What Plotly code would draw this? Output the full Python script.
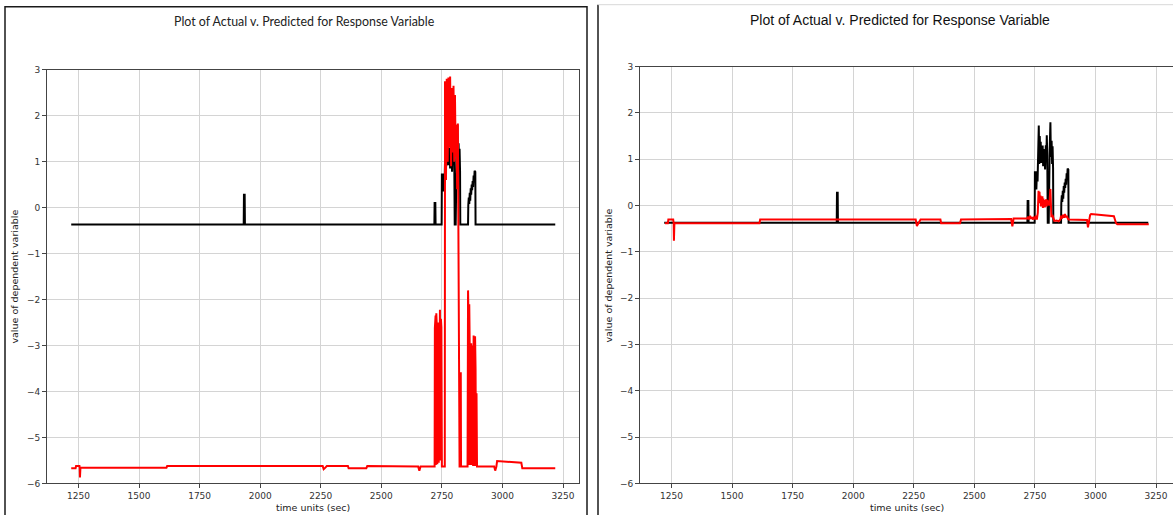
import plotly.graph_objects as go

# ---- data -------------------------------------------------------------
# Actual response (shared by both panels)
t_actual = [1220, 1932, 1933, 1936, 1937, 2719, 2720, 2723, 2724, 2749, 2750, 2755,
            2756, 2758, 2761, 2763, 2766, 2768, 2770, 2772, 2774, 2776, 2778, 2780,
            2782, 2784, 2786, 2788, 2790, 2792, 2795, 2797, 2799, 2801, 2803, 2807,
            2808, 2811, 2814, 2816, 2819, 2821, 2823, 2825, 2826, 2858, 2859, 2861,
            2863, 2865, 2867, 2869, 2871, 2873, 2875, 2877, 2879, 2881, 2883, 2885,
            2888, 2889, 3218]
v_actual = [-0.37, -0.37, 0.28, 0.28, -0.37, -0.37, 0.10, 0.10, -0.37, -0.37, 0.72, 0.72,
            0.35, 0.68, 0.52, 1.05, 1.73, 0.90, 1.50, 1.05, 1.38, 0.92, 1.28, 1.02,
            1.30, 0.85, 1.22, 0.98, 1.15, 0.78, 1.30, 0.95, 1.52, 1.10, -0.37, -0.37,
            0.60, 1.20, 1.80, 1.05, 1.40, 0.90, 1.28, 0.80, -0.37, -0.37, 0.05, 0.22,
            0.08, 0.32, 0.15, 0.42, 0.28, 0.50, 0.38, 0.58, 0.45, 0.70, 0.55, 0.80,
            0.78, -0.37, -0.37]

# Predicted response, first model
t_pred_a = [1220, 1238, 1240, 1254, 1255, 1256, 1258, 1613, 1616, 2258, 2262, 2266,
            2275, 2362, 2365, 2438, 2442, 2652, 2657, 2662, 2720, 2721, 2724, 2725,
            2727, 2729, 2731, 2733, 2735, 2737, 2739, 2742, 2744, 2746, 2748, 2750,
            2762, 2763, 2767, 2770, 2774, 2777, 2781, 2784, 2788, 2791, 2795, 2798,
            2801, 2804, 2807, 2810, 2813, 2816, 2819, 2823, 2827, 2828, 2829, 2856,
            2858, 2860, 2861, 2863, 2865, 2867, 2869, 2871, 2873, 2875, 2877, 2879,
            2881, 2883, 2885, 2887, 2889, 2891, 2893, 2895, 2966, 2970, 2975, 2978,
            3040, 3078, 3082, 3218]
v_pred_a = [-5.67, -5.67, -5.62, -5.62, -5.66, -5.87, -5.66, -5.66, -5.62, -5.62, -5.69, -5.67,
            -5.62, -5.62, -5.67, -5.67, -5.62, -5.63, -5.72, -5.63, -5.63, -2.62, -2.35, -5.60,
            -2.30, -2.55, -5.58, -2.72, -2.50, -5.55, -2.30, -2.22, -5.50, -2.42, -2.60, -5.63,
            -5.63, 2.75, 0.60, 2.80, 1.00, 2.83, 1.30, 2.85, 0.90, 2.60, 1.20, 2.65,
            1.00, 2.45, 1.10, 1.80, 0.40, 1.83, -1.05, -5.63, -5.63, -3.58, -5.63, -5.63,
            -1.80, -2.40, -5.60, -2.10, -3.05, -5.60, -3.10, -2.95, -5.60, -3.30, -3.00, -5.62,
            -2.78, -3.20, -5.62, -2.80, -3.50, -5.62, -4.04, -5.63, -5.63, -5.72, -5.63, -5.51,
            -5.53, -5.55, -5.67, -5.67]

# Predicted response, second model
t_pred_b = [1223, 1235, 1237, 1257, 1259, 1260, 1262, 1613, 1616, 2258, 2263, 2267,
            2278, 2360, 2363, 2441, 2445, 2652, 2657, 2662, 2719, 2722, 2726, 2730,
            2734, 2738, 2742, 2746, 2750, 2754, 2758, 2762, 2765, 2767, 2769, 2771,
            2773, 2775, 2777, 2779, 2781, 2783, 2785, 2787, 2789, 2791, 2793, 2795,
            2797, 2799, 2801, 2803, 2806, 2809, 2812, 2814, 2816, 2818, 2822, 2826,
            2830, 2840, 2848, 2855, 2858, 2862, 2866, 2870, 2874, 2878, 2882, 2886,
            2890, 2965, 2969, 2973, 2978, 2982, 3030, 3076, 3085, 3090, 3220]
v_pred_b = [-0.38, -0.38, -0.30, -0.30, -0.38, -0.76, -0.38, -0.38, -0.30, -0.30, -0.44, -0.40,
            -0.30, -0.30, -0.38, -0.38, -0.30, -0.29, -0.45, -0.28, -0.28, -0.24, -0.30, -0.22,
            -0.28, -0.25, -0.30, -0.24, -0.30, -0.22, -0.30, -0.15, 0.32, 0.05, 0.30, 0.08,
            0.22, -0.02, 0.18, 0.05, 0.20, -0.05, 0.15, 0.02, 0.12, -0.04, 0.10, 0.00,
            0.14, -0.02, 0.12, 0.04, 0.10, 0.00, 0.22, 0.36, 0.05, -0.25, -0.20, -0.30,
            -0.33, -0.32, -0.34, -0.30, -0.22, -0.28, -0.20, -0.26, -0.18, -0.25, -0.22, -0.28,
            -0.30, -0.31, -0.47, -0.35, -0.20, -0.18, -0.20, -0.23, -0.38, -0.40, -0.40]

x_ticks = [1250, 1500, 1750, 2000, 2250, 2500, 2750, 3000, 3250]
y_ticks = [-6, -5, -4, -3, -2, -1, 0, 1, 2, 3]

title_text = "Plot of Actual v. Predicted for Response Variable"
x_label = "time units (sec)"
y_label = "value of dependent variable"

# ---- layout helpers ---------------------------------------------------
W, H = 1173, 515


def fx(p):
    return p / W


def fy(p):
    # vertical pixel offset (from the top) -> paper fraction
    q = (p - 4.3) / 0.981
    return 1 - q / H


tick_font = dict(family="DejaVu Sans", size=9, color="#333333")
spine = "#444444"
grid = "#d4d4d4"


def x_axis(domain, rng, anchor):
    return dict(domain=domain, range=rng, anchor=anchor, tickvals=x_ticks,
                showgrid=True, gridcolor=grid, gridwidth=1, zeroline=False,
                showline=True, linecolor=spine, linewidth=1, mirror=True,
                ticks="outside", ticklen=4, tickcolor=spine, tickfont=tick_font,
                fixedrange=True)


def y_axis(domain, anchor, mirror):
    return dict(domain=domain, range=[-6, 3], anchor=anchor, tickvals=y_ticks,
                showgrid=True, gridcolor=grid, gridwidth=1, zeroline=False,
                showline=True, linecolor=spine, linewidth=1, mirror=mirror,
                ticks="outside", ticklen=4, tickcolor=spine, tickfont=tick_font,
                fixedrange=True)


fig = go.Figure()

# left panel
fig.add_trace(go.Scatter(x=t_actual, y=v_actual, mode="lines", xaxis="x", yaxis="y",
                         line=dict(color="#000000", width=2), showlegend=False,
                         hoverinfo="skip"))
fig.add_trace(go.Scatter(x=t_pred_a, y=v_pred_a, mode="lines", xaxis="x", yaxis="y",
                         line=dict(color="#ff0000", width=2), showlegend=False,
                         hoverinfo="skip"))
# right panel
fig.add_trace(go.Scatter(x=t_actual, y=v_actual, mode="lines", xaxis="x2", yaxis="y2",
                         line=dict(color="#000000", width=2), showlegend=False,
                         hoverinfo="skip"))
fig.add_trace(go.Scatter(x=t_pred_b, y=v_pred_b, mode="lines", xaxis="x2", yaxis="y2",
                         line=dict(color="#ff0000", width=2), showlegend=False,
                         hoverinfo="skip"))

left_x = [fx(47), fx(579)]
right_x = [fx(640), 1.0]
left_y = [fy(483), fy(69)]
right_y = [fy(483), fy(66)]

label_font = dict(family="DejaVu Sans", size=9.5, color="#222222")

annotations = [
    dict(text=title_text, x=fx(304), y=fy(21), xref="paper", yref="paper",
         showarrow=False, xanchor="center", yanchor="middle",
         font=dict(family="Lato", size=12.4, color="#222222")),
    dict(text=title_text, x=fx(900), y=fy(19), xref="paper", yref="paper",
         showarrow=False, xanchor="center", yanchor="middle",
         font=dict(family="Liberation Sans", size=14, color="#111111")),
    dict(text=x_label, x=fx(313), y=fy(507), xref="paper", yref="paper",
         showarrow=False, xanchor="center", yanchor="middle", font=label_font),
    dict(text=x_label, x=fx(907), y=fy(507), xref="paper", yref="paper",
         showarrow=False, xanchor="center", yanchor="middle", font=label_font),
    dict(text=y_label, x=fx(15), y=fy(276), xref="paper", yref="paper",
         showarrow=False, xanchor="center", yanchor="middle", textangle=-90,
         font=label_font),
    dict(text=y_label, x=fx(609), y=fy(275), xref="paper", yref="paper",
         showarrow=False, xanchor="center", yanchor="middle", textangle=-90,
         font=label_font),
]

shapes = [
    # border around the left figure
    dict(type="rect", xref="paper", yref="paper", x0=fx(5), x1=fx(587),
         y0=fy(540), y1=fy(6), line=dict(color="#1a1a1a", width=1.5)),
    # border pieces of the right figure
    dict(type="line", xref="paper", yref="paper", x0=fx(598), x1=fx(598),
         y0=fy(540), y1=fy(4), line=dict(color="#1a1a1a", width=1.5)),
    dict(type="line", xref="paper", yref="paper", x0=fx(598), x1=fx(1180),
         y0=fy(4), y1=fy(4), line=dict(color="#d8d8d8", width=1)),
]

fig.update_layout(
    width=W, height=H, autosize=False,
    margin=dict(l=0, r=0, t=0, b=0, pad=0),
    paper_bgcolor="#ffffff", plot_bgcolor="#ffffff",
    xaxis=x_axis(left_x, [1120, 3316], "y"),
    yaxis=y_axis(left_y, "x", True),
    xaxis2=x_axis(right_x, [1120, 3320], "y2"),
    yaxis2=y_axis(right_y, "x2", False),
    annotations=annotations,
    shapes=shapes,
    hovermode=False,
)

fig.write_html("out.html", config={"displayModeBar": False, "staticPlot": True})
